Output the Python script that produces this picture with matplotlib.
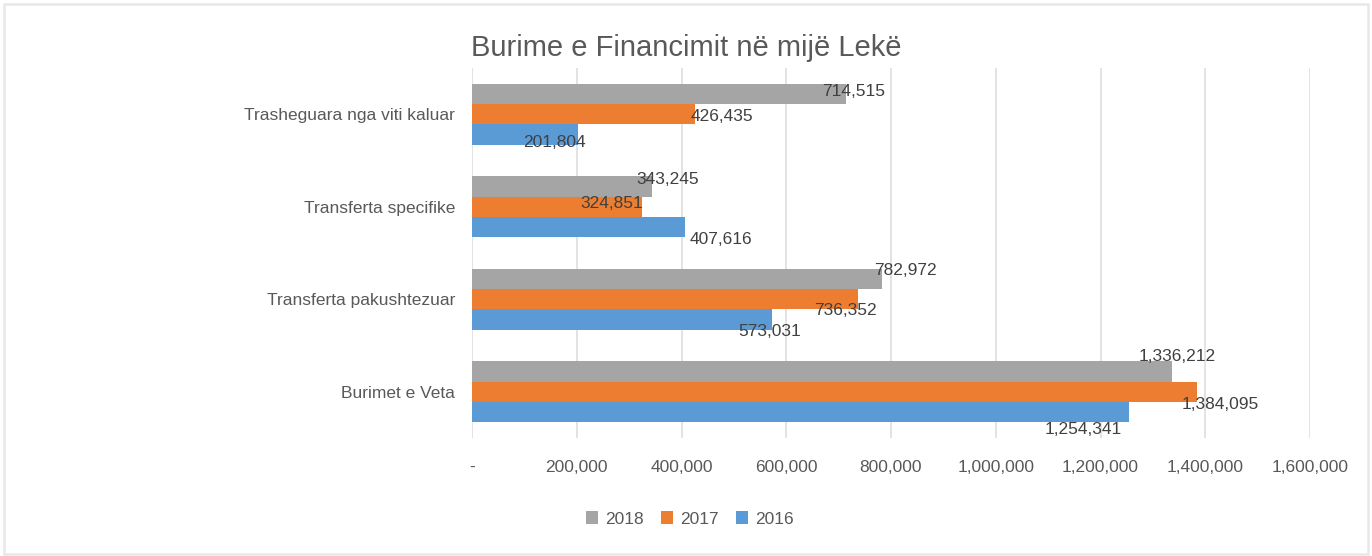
import matplotlib
matplotlib.use("Agg")
import matplotlib.pyplot as plt
from matplotlib.patches import Rectangle
import numpy as np

# Data (bottom to top as drawn)
categories = ["Burimet e Veta", "Transferta pakushtezuar", "Transferta specifike", "Trasheguara nga viti kaluar"]
v2018 = [1336212, 782972, 343245, 714515]
v2017 = [1384095, 736352, 324851, 426435]
v2016 = [1254341, 573031, 407616, 201804]
xticks = [0, 200000, 400000, 600000, 800000, 1000000, 1200000, 1400000, 1600000]

# label offsets in pixels (dx from bar end, dy from bar centre) - mimic the Excel placement
off2018 = [(5, 15), (23, 8), (16, 7), (7, 2)]
off2017 = [(23, -13), (-12, -11), (-30, 3), (27, -2)]
off2016 = [(-46, -17), (-2, -12), (35, -12), (-23, -8)]

plt.rcParams["font.family"] = ["Liberation Sans Narrow", "Liberation Sans", "DejaVu Sans"]
txt = "#595959"

fig = plt.figure(figsize=(13.72, 5.56), dpi=100)
ax = fig.add_axes([472 / 1372, 1 - 438 / 556, (1310 - 472) / 1372, (438 - 68) / 556])

y = np.arange(len(categories))
h = 0.22
series = [(v2018, "#A5A5A5", "2018", h, off2018),
          (v2017, "#ED7D31", "2017", 0, off2017),
          (v2016, "#5B9BD5", "2016", -h, off2016)]
for vals, col, lab, shift, offs in series:
    ax.barh(y + shift, vals, height=h, color=col, label=lab, zorder=3)
    for yi, v, (dx, dy) in zip(y + shift, vals, offs):
        ax.annotate(f"{v:,}", (v, yi), xytext=(dx, dy), textcoords="offset pixels",
                    ha="center", va="center", fontsize=12.5, color="#404040", zorder=5)

ax.set_xlim(0, 1600000)
ax.set_ylim(-0.5, 3.5)
ax.set_xticks(xticks)
ax.set_xticklabels(["-"] + [f"{t:,}" for t in xticks[1:]])
ax.set_yticks(y)
ax.set_yticklabels(categories)
ax.grid(axis="x", color="#E0E0E0", linewidth=1.3, zorder=0)
for s in ax.spines.values():
    s.set_visible(False)
ax.tick_params(axis="x", length=0, pad=16, labelsize=12.5, labelcolor=txt)
ax.tick_params(axis="y", length=0, pad=12, labelsize=12.5, labelcolor=txt)

fig.text(0.5, 1 - 48 / 556, "Burime e Financimit në mijë Lekë", ha="center", va="center",
         fontsize=21, color=txt)

fig.legend(loc="center", bbox_to_anchor=(0.503, 1 - 519 / 556), ncol=3, frameon=False,
           fontsize=12.5, labelcolor=txt, handlelength=0.7, handleheight=0.7,
           handletextpad=0.4, columnspacing=1.0)

# chart border
fig.patches.append(Rectangle((4 / 1372, 2 / 556), 1364 / 1372, 550 / 556, transform=fig.transFigure,
                             fill=False, edgecolor="#E8E8E8", linewidth=1.8))

fig.savefig("out.png", dpi=100)
